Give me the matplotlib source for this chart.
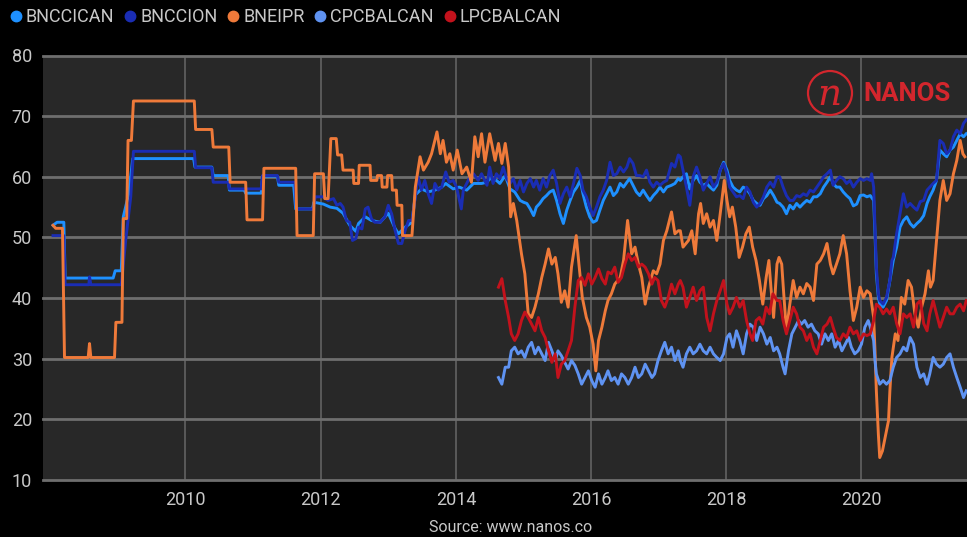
import matplotlib
matplotlib.use("Agg")
import matplotlib.pyplot as plt
from matplotlib.lines import Line2D
from matplotlib.patches import Circle

plt.rcParams['font.family'] = ['Roboto', 'DejaVu Sans']

# decimal years / index values
BNCCICAN_YR = [2008.04, 2008.10, 2008.20, 2008.22, 2008.93, 2008.96, 2009.05, 2009.08, 2009.16, 2009.22,
               2010.12, 2010.14, 2010.39, 2010.41, 2010.63, 2010.65, 2010.87, 2010.89, 2011.12, 2011.14,
               2011.36, 2011.38, 2011.60, 2011.63, 2011.88, 2011.90,
               2012.04, 2012.14, 2012.24, 2012.33, 2012.43, 2012.52, 2012.56, 2012.66, 2012.75, 2012.88,
               2013.00, 2013.10, 2013.15, 2013.25, 2013.35, 2013.40, 2013.49, 2013.59, 2013.69, 2013.79,
               2013.85, 2013.96, 2014.05, 2014.16, 2014.26, 2014.38, 2014.46,
               2014.50, 2014.60, 2014.65, 2014.73, 2014.80, 2014.87, 2014.95, 2015.00, 2015.05, 2015.10,
               2015.15, 2015.19, 2015.24, 2015.29, 2015.34, 2015.39, 2015.44, 2015.49, 2015.54, 2015.59,
               2015.64, 2015.69, 2015.74, 2015.79, 2015.84, 2015.88, 2015.93, 2015.98, 2016.03, 2016.08,
               2016.13, 2016.18, 2016.23, 2016.28, 2016.33, 2016.38, 2016.43, 2016.48, 2016.53, 2016.57,
               2016.62, 2016.67, 2016.72, 2016.77, 2016.82, 2016.87, 2016.92, 2016.97, 2017.02, 2017.07,
               2017.12, 2017.19, 2017.24, 2017.29,
               2017.32, 2017.36, 2017.41, 2017.46, 2017.51, 2017.56, 2017.61, 2017.66, 2017.71, 2017.76,
               2017.81, 2017.86, 2017.91, 2017.96, 2018.01, 2018.05, 2018.10, 2018.15, 2018.20, 2018.25,
               2018.30, 2018.35, 2018.40, 2018.45, 2018.50, 2018.55, 2018.60, 2018.65, 2018.70, 2018.75,
               2018.79, 2018.84, 2018.89, 2018.94, 2018.99, 2019.04, 2019.09, 2019.14, 2019.19, 2019.24,
               2019.29, 2019.34, 2019.39, 2019.44, 2019.49, 2019.54, 2019.58, 2019.63, 2019.68, 2019.73,
               2019.78, 2019.83, 2019.88, 2019.93, 2019.98, 2020.03, 2020.08, 2020.13, 2020.18, 2020.20,
               2020.22, 2020.25, 2020.27, 2020.32, 2020.37, 2020.42, 2020.47, 2020.52, 2020.57, 2020.62,
               2020.67, 2020.72, 2020.77, 2020.82, 2020.87, 2020.92, 2020.97, 2021.01, 2021.06, 2021.11,
               2021.16, 2021.21, 2021.26, 2021.31, 2021.36, 2021.41, 2021.46, 2021.51, 2021.55]
BNCCICAN = [52.0, 52.5, 52.5, 43.3, 43.3, 44.5, 44.5, 53.4, 57.2, 63.0,
            63.0, 61.6, 61.6, 60.2, 60.2, 57.8, 57.8, 57.3, 57.3, 60.1,
            60.1, 58.6, 58.6, 54.7, 54.7, 55.8,
            55.5, 55.0, 54.8, 54.0, 52.0, 51.0, 52.3, 53.4, 52.8, 52.5,
            54.0, 51.5, 50.6, 51.7, 52.5, 57.0, 58.0, 57.5, 57.8, 58.3,
            58.9, 58.0, 58.3, 57.8, 58.9, 58.9, 59.1,
            59.7, 59.4, 58.9, 60.2, 58.0, 57.5, 56.1, 55.8, 55.6, 54.7,
            53.6, 55.0, 55.6, 56.4, 56.9, 57.5, 57.8, 56.1, 53.9, 52.3,
            54.5, 56.1, 57.5, 58.3, 59.4, 57.2, 55.0, 53.4, 52.5, 52.8,
            54.5, 56.1, 57.2, 58.3, 56.9, 57.5, 58.9, 58.3, 59.1, 59.7,
            58.6, 57.5, 56.9, 57.8, 56.9, 56.1, 56.9, 57.5, 58.3, 57.5,
            58.3, 58.6, 58.9, 59.7,
            59.4, 60.0, 60.5, 58.0, 59.4, 60.2, 59.1, 58.6, 58.9, 58.3,
            57.8, 58.6, 61.1, 62.4, 61.1, 59.4, 58.3, 57.8, 57.5, 58.3,
            58.0, 57.2, 56.1, 55.6, 55.3, 56.4, 56.9, 57.8, 56.9, 55.8,
            55.6, 55.0, 53.9, 55.3, 54.7, 55.6, 55.0, 55.6, 56.1, 55.8,
            56.7, 56.7, 57.2, 58.3, 59.1, 60.0, 58.9, 58.3, 58.3, 57.5,
            56.9, 56.4, 55.2, 55.5, 56.9, 57.0, 56.7, 56.9, 56.1, 50.6,
            44.0, 40.1, 39.0, 38.5, 39.6, 42.9, 46.2, 48.4, 51.7, 52.8,
            53.4, 52.3, 51.7, 52.3, 52.8, 53.6, 55.6, 56.7, 57.8, 59.4,
            64.4, 63.8, 63.3, 64.4, 64.9, 66.0, 67.1, 66.6, 67.1]

BNCCION_YR = [2008.04, 2008.20, 2008.22, 2008.57, 2008.58, 2008.60, 2009.05, 2009.12, 2009.19, 2009.23,
              2010.13, 2010.15, 2010.39, 2010.41, 2010.63, 2010.65, 2011.12, 2011.14, 2011.36, 2011.38,
              2011.62, 2011.64, 2011.89, 2011.92,
              2012.04, 2012.11, 2012.19, 2012.24, 2012.29, 2012.33, 2012.38, 2012.43, 2012.47, 2012.52,
              2012.56, 2012.61, 2012.66, 2012.70, 2012.75, 2012.80, 2012.88, 2012.95, 2013.00, 2013.05,
              2013.10, 2013.15, 2013.20, 2013.25, 2013.30, 2013.35, 2013.40, 2013.44, 2013.49, 2013.54,
              2013.59, 2013.64, 2013.69, 2013.74, 2013.79, 2013.85, 2013.90, 2013.96, 2014.01, 2014.08,
              2014.11, 2014.16, 2014.21, 2014.26, 2014.33, 2014.38, 2014.46,
              2014.50, 2014.55, 2014.60, 2014.65, 2014.70, 2014.75, 2014.80, 2014.85, 2014.90, 2014.95,
              2015.00, 2015.05, 2015.10, 2015.15, 2015.19, 2015.24, 2015.29, 2015.34, 2015.39, 2015.44,
              2015.49, 2015.54, 2015.59, 2015.64, 2015.69, 2015.74, 2015.79, 2015.84, 2015.88, 2015.93,
              2015.98, 2016.03, 2016.08, 2016.13, 2016.18, 2016.23, 2016.28, 2016.33, 2016.38, 2016.43,
              2016.48, 2016.53, 2016.57, 2016.62, 2016.67, 2016.72, 2016.77, 2016.82, 2016.87, 2016.92,
              2016.97, 2017.02, 2017.07, 2017.12, 2017.19, 2017.24, 2017.29,
              2017.32, 2017.36, 2017.41, 2017.46, 2017.51, 2017.56, 2017.61, 2017.66, 2017.71, 2017.76,
              2017.81, 2017.86, 2017.91, 2017.96, 2018.01, 2018.05, 2018.10, 2018.15, 2018.20, 2018.25,
              2018.30, 2018.35, 2018.40, 2018.45, 2018.50, 2018.55, 2018.60, 2018.65, 2018.70, 2018.75,
              2018.79, 2018.84, 2018.89, 2018.94, 2018.99, 2019.04, 2019.09, 2019.14, 2019.19, 2019.24,
              2019.29, 2019.34, 2019.39, 2019.44, 2019.49, 2019.54, 2019.58, 2019.63, 2019.68, 2019.73,
              2019.78, 2019.83, 2019.88, 2019.93, 2019.98, 2020.03, 2020.08, 2020.13, 2020.15, 2020.18,
              2020.20, 2020.22, 2020.25, 2020.27, 2020.32, 2020.37, 2020.42, 2020.45, 2020.47, 2020.52,
              2020.57, 2020.62, 2020.67, 2020.72, 2020.77, 2020.82, 2020.87, 2020.92, 2020.97, 2021.01,
              2021.06, 2021.11, 2021.16, 2021.21, 2021.26, 2021.31, 2021.36, 2021.41, 2021.46, 2021.51,
              2021.55]
BNCCION = [50.3, 50.3, 42.2, 42.2, 43.5, 42.2, 42.2, 50.0, 56.7, 64.2,
           64.2, 61.5, 61.5, 59.1, 59.1, 58.0, 58.0, 60.2, 60.2, 59.1,
           59.1, 54.7, 54.7, 56.7,
           56.7, 56.1, 56.4, 55.3, 55.6, 55.0, 52.8, 52.5, 49.5, 49.8,
           51.7, 51.4, 54.7, 55.0, 53.1, 52.5, 52.5, 53.4, 55.3, 53.9,
           51.2, 49.0, 49.0, 51.2, 52.8, 52.8, 56.7, 60.0, 57.8, 59.4,
           57.2, 55.6, 58.9, 57.8, 58.3, 60.8, 59.1, 59.4, 58.3, 54.7,
           57.8, 58.9, 60.0, 60.5, 59.4, 60.5, 58.6,
           61.6, 58.9, 60.5, 59.7, 61.6, 59.7, 58.9, 59.7, 57.8, 59.4,
           57.5, 58.9, 59.7, 58.3, 59.4, 57.8, 59.7, 58.3, 60.2, 61.1,
           58.9, 55.6, 57.2, 58.3, 56.7, 58.9, 61.4, 60.2, 57.8, 56.7,
           55.0, 53.6, 55.0, 56.7, 57.8, 59.4, 62.4, 60.2, 60.5, 61.6,
           60.8, 61.6, 63.0, 62.2, 60.2, 60.2, 60.0, 61.1, 59.1, 58.3,
           59.1, 58.6, 59.1, 59.4, 62.2, 61.6, 63.6,
           63.3, 61.1, 58.3, 55.3, 60.0, 61.6, 60.0, 57.8, 58.9, 60.0,
           58.3, 59.1, 61.1, 62.2, 60.5, 58.3, 57.5, 56.7, 56.9, 56.4,
           58.3, 57.5, 55.8, 55.0, 55.6, 56.7, 58.3, 59.1, 58.3, 60.0,
           60.0, 58.3, 56.9, 56.1, 56.1, 56.9, 56.7, 57.2, 56.9, 57.8,
           57.5, 58.3, 59.1, 60.0, 60.5, 61.1, 58.6, 59.4, 60.0, 59.7,
           58.9, 59.4, 58.3, 59.1, 59.7, 59.4, 59.7, 59.4, 60.5, 58.3,
           51.7, 45.1, 40.7, 39.6, 39.0, 40.1, 42.9, 46.2, 46.7, 50.6,
           53.9, 57.2, 55.0, 55.6, 55.0, 54.5, 55.9, 56.1, 57.8, 58.3,
           58.9, 59.4, 66.0, 65.5, 63.8, 64.4, 66.6, 67.7, 67.1, 68.8,
           69.4]

BNEIPR_YR = [2008.04, 2008.08, 2008.18, 2008.21, 2008.56, 2008.58, 2008.60, 2008.95, 2008.97, 2009.06,
             2009.08, 2009.13, 2009.15, 2009.20, 2009.23, 2010.13, 2010.15, 2010.39, 2010.41, 2010.64,
             2010.66, 2010.89, 2010.91, 2011.14, 2011.16, 2011.63, 2011.65, 2011.89, 2011.91, 2012.04,
             2012.06, 2012.11, 2012.15, 2012.23, 2012.25, 2012.31, 2012.33, 2012.48, 2012.49, 2012.56,
             2012.57, 2012.73, 2012.74, 2012.83, 2012.84, 2012.90, 2012.91, 2012.98, 2012.99, 2013.05,
             2013.06, 2013.12, 2013.13, 2013.20, 2013.21, 2013.35, 2013.40, 2013.47, 2013.52, 2013.59,
             2013.64, 2013.72, 2013.77, 2013.81, 2013.86, 2013.91, 2013.96, 2014.02, 2014.09, 2014.16,
             2014.23, 2014.28, 2014.33, 2014.38, 2014.43,
             2014.50, 2014.58, 2014.63, 2014.68, 2014.73, 2014.78, 2014.81, 2014.85, 2014.90, 2014.97,
             2015.02, 2015.07, 2015.12, 2015.17, 2015.22, 2015.27, 2015.32, 2015.37, 2015.42, 2015.47,
             2015.51, 2015.56, 2015.61, 2015.66, 2015.71, 2015.78, 2015.82, 2015.87, 2015.93, 2015.98,
             2016.03, 2016.07, 2016.11, 2016.16, 2016.21, 2016.25, 2016.30, 2016.35, 2016.43, 2016.48,
             2016.54, 2016.60, 2016.65, 2016.70, 2016.75, 2016.80, 2016.85, 2016.92, 2016.97, 2017.02,
             2017.07, 2017.12, 2017.19, 2017.24, 2017.29,
             2017.32, 2017.36, 2017.44, 2017.49, 2017.54, 2017.59, 2017.62, 2017.66, 2017.71, 2017.76,
             2017.81, 2017.86, 2017.91, 2017.97, 2018.01, 2018.05, 2018.09, 2018.14, 2018.19, 2018.24,
             2018.29, 2018.34, 2018.39, 2018.44, 2018.49, 2018.54, 2018.59, 2018.63, 2018.66, 2018.70,
             2018.75, 2018.78, 2018.82, 2018.85, 2018.89, 2018.94, 2018.99, 2019.04, 2019.09, 2019.14,
             2019.19, 2019.24, 2019.29, 2019.34, 2019.39, 2019.44, 2019.49, 2019.54, 2019.58, 2019.63,
             2019.68, 2019.73, 2019.78, 2019.83, 2019.88, 2019.93, 2019.98, 2020.03, 2020.08,
             2020.13, 2020.18, 2020.20, 2020.22, 2020.25, 2020.27, 2020.31, 2020.35, 2020.40, 2020.42,
             2020.45, 2020.50, 2020.54, 2020.59, 2020.64, 2020.69, 2020.74, 2020.79, 2020.84, 2020.89,
             2020.94, 2020.99, 2021.02, 2021.06, 2021.11, 2021.16, 2021.21, 2021.26, 2021.31, 2021.36,
             2021.41, 2021.46, 2021.50, 2021.53]
BNEIPR = [52.0, 51.5, 51.5, 30.2, 30.2, 32.5, 30.2, 30.2, 36.0, 36.0,
          53.1, 53.1, 66.0, 66.0, 72.5, 72.5, 67.8, 67.8, 64.9, 64.9,
          59.1, 59.1, 52.9, 52.9, 61.4, 61.4, 50.3, 50.3, 60.5, 60.5,
          56.4, 56.4, 66.3, 66.3, 63.6, 63.6, 61.1, 61.1, 58.9, 58.9,
          61.9, 61.9, 59.4, 59.4, 60.2, 60.2, 58.3, 58.3, 60.2, 60.2,
          57.8, 57.8, 55.3, 55.3, 50.3, 50.3, 58.3, 63.3, 61.1, 62.4,
          63.8, 67.4, 63.8, 66.0, 62.4, 63.8, 61.1, 64.4, 60.5, 61.6,
          59.1, 66.6, 63.3, 67.1, 62.4,
          67.1, 62.7, 65.5, 62.2, 65.5, 61.6, 53.4, 55.6, 52.8, 47.3,
          44.0, 37.4, 36.8, 38.5, 40.7, 43.4, 45.6, 48.1, 45.6, 46.7,
          44.0, 39.3, 41.2, 38.5, 45.1, 50.3, 45.6, 40.1, 36.8, 35.2,
          32.4, 28.0, 33.0, 35.2, 37.9, 39.6, 40.7, 42.3, 43.4, 46.2,
          52.8, 47.3, 48.4, 45.6, 43.4, 39.0, 41.8, 44.5, 44.0, 45.6,
          49.5, 51.1, 54.2, 50.6, 51.1,
          51.1, 48.4, 49.5, 51.1, 47.3, 53.9, 55.6, 52.3, 53.9, 51.7,
          52.8, 49.5, 53.9, 59.4, 56.1, 53.4, 55.0, 51.7, 46.7, 48.4,
          50.6, 51.7, 48.4, 46.2, 42.9, 39.0, 43.4, 46.2, 41.8, 36.8,
          45.6, 46.7, 45.6, 40.7, 34.6, 39.0, 42.9, 40.1, 41.8, 40.7,
          42.4, 41.8, 39.6, 45.6, 46.2, 47.3, 49.0, 45.6, 44.0, 45.6,
          47.3, 50.3, 47.3, 41.2, 36.3, 38.5, 41.8, 40.1, 41.2,
          40.7, 36.8, 31.3, 24.7, 17.5, 13.7, 14.8, 17.0, 19.8, 24.7,
          30.2, 34.1, 33.0, 40.1, 39.0, 42.9, 41.8, 37.4, 35.2, 38.5,
          40.7, 44.5, 41.8, 42.9, 49.5, 56.1, 59.4, 56.1, 57.2, 60.5,
          62.7, 66.0, 63.8, 63.3]

CPCBALCAN_YR = [2014.63, 2014.68, 2014.73, 2014.78, 2014.82, 2014.87, 2014.92, 2014.97, 2015.02, 2015.07,
                2015.12, 2015.17, 2015.22, 2015.27, 2015.32, 2015.37, 2015.42, 2015.47, 2015.51, 2015.56,
                2015.61, 2015.66, 2015.71, 2015.76, 2015.81, 2015.86, 2015.91, 2015.96, 2016.01, 2016.06,
                2016.11, 2016.16, 2016.21, 2016.25, 2016.30, 2016.35, 2016.40, 2016.45, 2016.50, 2016.55,
                2016.60, 2016.65, 2016.70, 2016.75, 2016.80, 2016.85, 2016.90, 2016.94, 2016.99, 2017.04,
                2017.09, 2017.14, 2017.19, 2017.24, 2017.29,
                2017.32, 2017.36, 2017.41, 2017.46, 2017.51, 2017.56, 2017.61, 2017.66, 2017.71, 2017.76,
                2017.81, 2017.86, 2017.91, 2017.96, 2018.01, 2018.05, 2018.10, 2018.15, 2018.20, 2018.25,
                2018.30, 2018.35, 2018.40, 2018.45, 2018.50, 2018.55, 2018.60, 2018.65, 2018.70, 2018.75,
                2018.79, 2018.84, 2018.87, 2018.92, 2018.97, 2019.02, 2019.07, 2019.11, 2019.16, 2019.21,
                2019.26, 2019.31, 2019.36, 2019.41, 2019.46, 2019.51, 2019.56, 2019.61, 2019.66, 2019.71,
                2019.76, 2019.81, 2019.85, 2019.90, 2019.95, 2020.00, 2020.05, 2020.10,
                2020.13, 2020.18, 2020.20, 2020.22, 2020.27, 2020.32, 2020.37, 2020.42, 2020.47, 2020.52,
                2020.57, 2020.62, 2020.67, 2020.72, 2020.77, 2020.82, 2020.87, 2020.92, 2020.97, 2021.01,
                2021.06, 2021.11, 2021.16, 2021.21, 2021.26, 2021.31, 2021.36, 2021.41, 2021.46, 2021.51,
                2021.55]
CPCBALCAN = [26.9, 25.8, 28.6, 28.6, 31.3, 31.9, 30.8, 31.3, 30.2, 31.9,
             32.7, 30.8, 31.9, 30.8, 29.7, 32.7, 31.3, 29.7, 31.3, 30.5,
             29.4, 28.3, 29.7, 28.9, 27.5, 25.8, 26.9, 28.0, 26.4, 25.3,
             27.5, 25.8, 26.9, 28.0, 26.4, 26.9, 25.8, 27.5, 26.9, 25.8,
             26.9, 28.6, 26.9, 27.5, 29.1, 28.0, 26.9, 27.5, 29.7, 31.3,
             32.7, 30.8, 31.9, 29.7, 31.3,
             29.7, 28.6, 30.8, 31.9, 30.8, 31.3, 32.4, 31.3, 30.8, 31.9,
             30.8, 30.2, 29.7, 30.8, 33.5, 34.1, 31.9, 34.6, 33.0, 30.8,
             34.1, 35.7, 35.2, 33.0, 35.2, 34.1, 32.4, 33.5, 31.3, 31.9,
             30.8, 28.6, 27.5, 31.3, 34.1, 35.2, 36.3, 35.7, 36.3, 35.2,
             35.7, 34.6, 34.1, 32.4, 34.1, 33.0, 34.1, 31.9, 33.0, 31.3,
             32.4, 33.5, 31.9, 30.8, 31.3, 32.4, 35.2, 36.3,
             35.2, 33.0, 29.7, 27.5, 25.8, 26.4, 25.8, 26.4, 28.6, 30.2,
             30.8, 31.9, 31.3, 33.5, 32.4, 28.6, 26.9, 27.5, 25.8, 27.5,
             30.2, 29.1, 28.6, 29.1, 30.2, 30.8, 28.6, 26.9, 25.3, 23.6,
             24.7]

LPCBALCAN_YR = [2014.63, 2014.68, 2014.73, 2014.78, 2014.82, 2014.87, 2014.92, 2014.97, 2015.02, 2015.07,
                2015.12, 2015.17, 2015.22, 2015.27, 2015.32, 2015.37, 2015.42, 2015.47, 2015.51, 2015.56,
                2015.61, 2015.66, 2015.71, 2015.76, 2015.81, 2015.86, 2015.91, 2015.96, 2016.01, 2016.06,
                2016.11, 2016.16, 2016.21, 2016.25, 2016.30, 2016.35, 2016.40, 2016.45, 2016.50, 2016.55,
                2016.60, 2016.65, 2016.70, 2016.75, 2016.80, 2016.85, 2016.90, 2016.94, 2016.99, 2017.04,
                2017.09, 2017.14, 2017.19, 2017.24, 2017.29,
                2017.32, 2017.36, 2017.41, 2017.46, 2017.51, 2017.56, 2017.61, 2017.66, 2017.71, 2017.76,
                2017.81, 2017.86, 2017.91, 2017.96, 2018.01, 2018.05, 2018.10, 2018.15, 2018.20, 2018.25,
                2018.30, 2018.35, 2018.39, 2018.44, 2018.49, 2018.54, 2018.59, 2018.64, 2018.69, 2018.75,
                2018.79, 2018.84, 2018.89, 2018.94, 2018.99, 2019.04, 2019.09, 2019.14, 2019.19, 2019.24,
                2019.29, 2019.34, 2019.39, 2019.44, 2019.49, 2019.54, 2019.58, 2019.63, 2019.68, 2019.73,
                2019.78, 2019.83, 2019.88, 2019.93, 2019.98, 2020.03, 2020.08,
                2020.13, 2020.18, 2020.22, 2020.27, 2020.32, 2020.37, 2020.42, 2020.47, 2020.52, 2020.57,
                2020.62, 2020.67, 2020.72, 2020.77, 2020.82, 2020.87, 2020.92, 2020.97, 2021.01, 2021.06,
                2021.11, 2021.16, 2021.21, 2021.26, 2021.31, 2021.36, 2021.41, 2021.46, 2021.51, 2021.55]
LPCBALCAN = [41.8, 43.2, 39.6, 36.8, 34.1, 33.0, 34.1, 36.3, 37.7, 36.8,
             35.7, 34.6, 36.8, 34.6, 33.5, 31.3, 29.4, 30.8, 26.9, 29.1,
             29.7, 31.3, 33.0, 38.5, 42.9, 43.4, 42.1, 44.0, 42.3, 43.4,
             44.8, 43.2, 42.3, 44.3, 44.0, 45.1, 42.6, 43.4, 45.6, 47.3,
             46.2, 46.7, 45.1, 45.6, 45.1, 44.0, 42.3, 43.4, 42.9, 39.6,
             38.5, 40.1, 42.3, 40.7, 42.3,
             42.9, 41.8, 38.5, 40.1, 41.8, 39.6, 41.2, 41.8, 36.8, 34.6,
             37.4, 39.6, 41.2, 42.9, 39.0, 37.4, 38.5, 40.1, 38.5, 39.6,
             36.3, 34.1, 33.0, 36.3, 36.8, 35.7, 38.5, 37.4, 40.7, 39.6,
             39.6, 36.3, 34.1, 36.3, 38.5, 37.4, 35.2, 34.6, 33.0, 34.1,
             31.9, 30.8, 33.0, 35.2, 35.7, 36.8, 35.2, 33.5, 33.0, 34.1,
             33.5, 35.2, 34.1, 34.6, 33.0, 34.1, 33.8,
             34.1, 36.3, 39.0, 38.5, 37.4, 38.2, 37.4, 38.5, 35.8, 34.1,
             37.4, 36.8, 37.4, 35.2, 39.0, 39.6, 35.8, 34.6, 37.4, 39.6,
             37.4, 35.2, 36.8, 38.5, 37.4, 37.4, 38.5, 39.0, 37.9, 39.6]

SERIES = ['BNCCICAN', 'BNCCION', 'BNEIPR', 'CPCBALCAN', 'LPCBALCAN']
COLORS = ['#1e90ff', '#1a2db4', '#ef7a3a', '#5f93f2', '#c3121c']
X_TICKS = [2010, 2012, 2014, 2016, 2018, 2020]
Y_TICKS = [10, 20, 30, 40, 50, 60, 70, 80]

W, H = 967, 537
fig = plt.figure(figsize=(W / 100, H / 100), dpi=100, facecolor='black')
ax = fig.add_axes([43 / W, 57 / H, 924 / W, 424.5 / H])
ax.set_facecolor('#282828')

data = [(BNCCICAN_YR, BNCCICAN), (BNCCION_YR, BNCCION), (BNEIPR_YR, BNEIPR),
        (CPCBALCAN_YR, CPCBALCAN), (LPCBALCAN_YR, LPCBALCAN)]
for (xs, ys), name, col in zip(data, SERIES, COLORS):
    ax.plot(xs, ys, color=col, lw=2.1, label=name, solid_joinstyle='round', zorder=3)

ax.set_xlim(2007.892, 2021.561)
ax.set_ylim(10, 80)
ax.set_xticks(X_TICKS)
ax.set_yticks(Y_TICKS)
ax.set_xticklabels([str(t) for t in X_TICKS])
ax.set_yticklabels([str(t) for t in Y_TICKS])
ax.tick_params(length=0, colors='#c8c8c8', labelsize=13)
ax.tick_params(axis='x', pad=8)
ax.tick_params(axis='y', pad=8)
ax.grid(axis='y', color='#6e6e6e', lw=2.0, zorder=1)
ax.grid(axis='x', color='#5e5e5e', lw=1.3, zorder=1)
for gl in ax.get_ygridlines():
    gl.set_clip_on(False)
for s in ax.spines.values():
    s.set_visible(False)

# legend with round markers across the top
handles = [Line2D([], [], ls='none', marker='o', markersize=7.5, color=c) for c in COLORS]
fig.legend(handles, SERIES, loc='center left', bbox_to_anchor=(0.0, 1 - 17 / H),
           ncol=5, frameon=False, fontsize=13, labelcolor='#c8c8c8',
           handlelength=0.55, handletextpad=0.28, columnspacing=0.6, borderaxespad=0.2)

# overlay in pixel units for logo and source line
ov = fig.add_axes([0, 0, 1, 1], facecolor='none')
ov.set_xlim(0, W)
ov.set_ylim(H, 0)
ov.axis('off')
red = '#d3262d'
ov.add_patch(Circle((830, 93), 22, fill=False, ec=red, lw=1.6))
ov.text(829, 95, 'n', color=red, fontsize=27, style='italic', family='DejaVu Serif',
        ha='center', va='center')
ov.text(863, 94, 'NANOS', color=red, fontsize=18.5, fontweight='bold', ha='left', va='center')
ov.text(511, 528, 'Source: www.nanos.co', color='#c8c8c8', fontsize=11.5, ha='center', va='center')

fig.savefig('out.png', dpi=100, facecolor='black')
